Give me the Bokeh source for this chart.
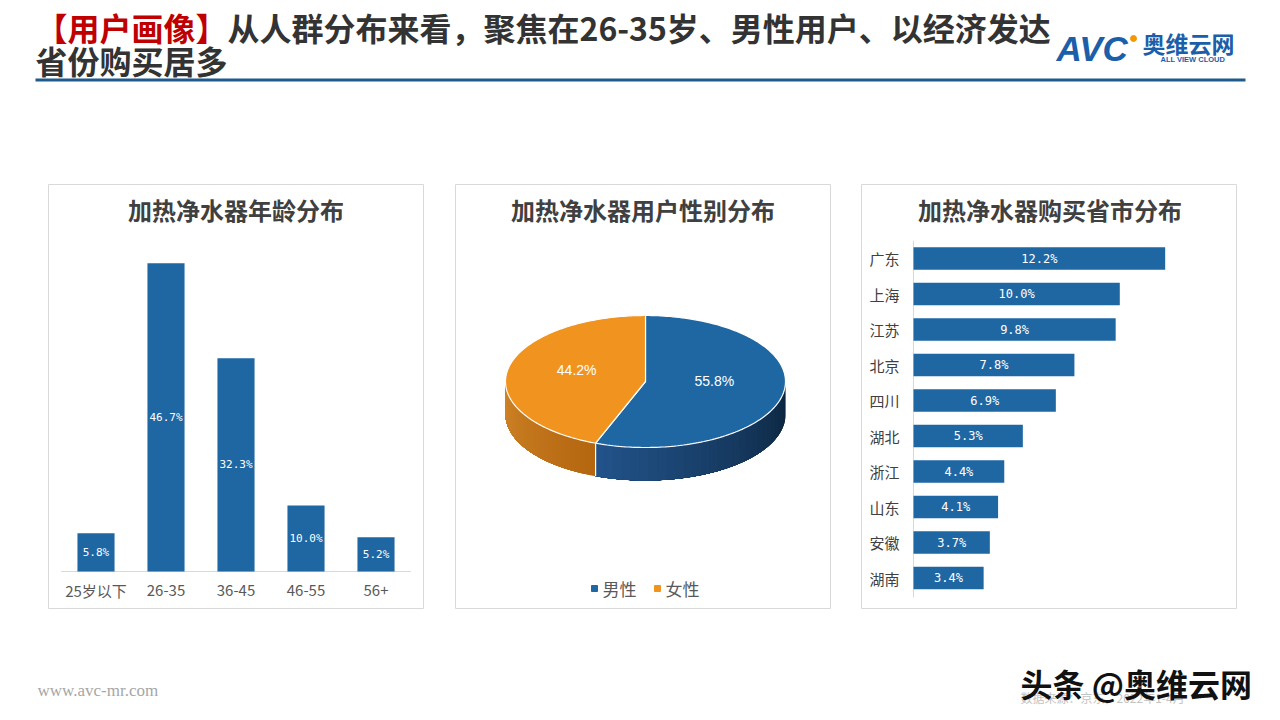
import numpy as np
from bokeh.plotting import figure
from bokeh.layouts import column, row
from bokeh.models import Range1d, FactorRange, Spacer
from bokeh.core.properties import value
from bokeh.embed import file_html
from bokeh.resources import INLINE

# ---------------- data ----------------
age_groups = ["25岁以下", "26-35", "36-45", "46-55", "56+"]
age_share = [5.8, 46.7, 32.3, 10.0, 5.2]

genders = ["男性", "女性"]
gender_share = [55.8, 44.2]

provinces = ["广东", "上海", "江苏", "北京", "四川", "湖北", "浙江", "山东", "安徽", "湖南"]
province_share = [12.2, 10.0, 9.8, 7.8, 6.9, 5.3, 4.4, 4.1, 3.7, 3.4]

panel_titles = ["加热净水器年龄分布", "加热净水器用户性别分布", "加热净水器购买省市分布"]
headline_tag = "【用户画像】"
headline_1 = "从人群分布来看，聚焦在26-35岁、男性用户、以经济发达"
headline_2 = "省份购买居多"

# ---------------- style ----------------
CJK = value("Noto Sans CJK SC")
MONO = value("DejaVu Sans Mono")
SANS = value("Liberation Sans")
SERIF = value("Liberation Serif")
BLUE = "#1F67A3"
ORANGE = "#F0931F"
TITLE_C = "#404040"
LABEL_C = "#595959"
GRID_C = "#D9D9D9"
LOGO_C = "#1B5EAA"

PW, PH = 377, 426          # panel size
PANEL_TOP = 183
TITLE_Y = 209
FB = PANEL_TOP + PH - 1    # frame bottom (page y)
FT = PANEL_TOP + 1         # frame top (page y)
TITLE_STYLE = dict(text_font=CJK, text_font_style="bold", text_font_size="24px",
                   text_color=TITLE_C, text_align="center", text_baseline="middle")


def base_fig(width, height, x_range, y_range, border=0):
    p = figure(width=width, height=height, x_range=x_range, y_range=y_range,
               output_backend="svg", toolbar_location=None,
               x_axis_type=None, y_axis_type=None, min_border=border)
    p.grid.visible = False
    p.background_fill_color = "white"
    p.border_fill_color = "white"
    return p


def panel_fig(x_range, y_range):
    p = base_fig(PW, PH, x_range, y_range, border=1)
    p.outline_line_color = GRID_C
    p.outline_line_width = 1
    return p


# ---------------- header ----------------
hdr = base_fig(1280, PANEL_TOP, Range1d(0, 1280), Range1d(PANEL_TOP, 0))
hdr.outline_line_color = None
hdr.text(x=[35], y=[26], text=[headline_tag], text_font=CJK, text_font_style="bold",
         text_font_size="32px", text_color="#C00000", text_baseline="middle")
hdr.text(x=[35 + 6 * 32], y=[26], text=[headline_1], text_font=CJK, text_font_style="bold",
         text_font_size="32px", text_color="#333333", text_baseline="middle")
hdr.text(x=[35], y=[59], text=[headline_2], text_font=CJK, text_font_style="bold",
         text_font_size="32px", text_color="#333333", text_baseline="middle")
hdr.segment(x0=[35], y0=[79.5], x1=[1245], y1=[79.5], line_width=3, line_color="#1F5A8C")
# logo
hdr.text(x=[1056], y=[48], text=["AVC"], text_font=SANS, text_font_style="bold italic",
         text_font_size="35px", text_color=LOGO_C, text_baseline="middle")
hdr.scatter(x=[1133], y=[38], size=6, marker="circle", color="#F39800")
hdr.text(x=[1142], y=[42], text=["奥维云网"], text_font=CJK, text_font_style="bold",
         text_font_size="23px", text_color=LOGO_C, text_baseline="middle")
hdr.text(x=[1160], y=[59], text=["ALL VIEW CLOUD"], text_font=SANS, text_font_style="bold",
         text_font_size="7.5px", text_color=LOGO_C, text_baseline="middle")

# ---------------- panel A: age bars ----------------
AX0 = 47
A_SCALE = 6.6            # px per percent
A_BASE = 37              # baseline distance from frame bottom (px)
ya0 = -A_BASE / A_SCALE
pa = panel_fig(FactorRange(factors=age_groups, range_padding=0.0714, range_padding_units="percent"),
               Range1d(ya0, ya0 + (PH - 2) / A_SCALE))
n_age = len(age_groups)
pa.text(x=[n_age / 2], y=[ya0 + (FB - TITLE_Y) / A_SCALE], text=[panel_titles[0]], **TITLE_STYLE)
pa.segment(x0=[0], x1=[n_age], y0=[0], y1=[0], line_color=GRID_C, line_width=1)
pa.vbar(x=age_groups, top=age_share, width=0.53, fill_color=BLUE, line_color=None)
pa.text(x=age_groups, y=[v / 2 for v in age_share], text=[f"{v:.1f}%" for v in age_share],
        text_font=MONO, text_font_size="11px", text_color="white",
        text_align="center", text_baseline="middle")
pa.text(x=age_groups, y=[0] * n_age, text=age_groups, y_offset=19,
        text_font=CJK, text_font_size="15px", text_color=LABEL_C,
        text_align="center", text_baseline="middle")

# ---------------- panel B: 3D pie ----------------
BX0 = 454
pb = panel_fig(Range1d(BX0 + 1, BX0 + PW - 1), Range1d(FB, FT))
pb.text(x=[BX0 + PW / 2], y=[TITLE_Y], text=[panel_titles[1]], **TITLE_STYLE)
cx, cy, rx, ry, depth = 645, 381, 140, 66, 33
top_colors = [BLUE, ORANGE]
side_colors = [("#22538A", "#0B233B"), ("#D08428", "#B4670F")]  # (left, right)

fr = np.array(gender_share) / np.sum(gender_share)
bounds = np.concatenate([[0.0], np.cumsum(fr)]) * 2 * np.pi


def ell(t):
    return cx + rx * np.sin(t), cy - ry * np.cos(t)


def mix(c1, c2, u):
    a = [int(c1[i:i + 2], 16) for i in (1, 3, 5)]
    b = [int(c2[i:i + 2], 16) for i in (1, 3, 5)]
    return "#%02x%02x%02x" % tuple(int(round(a[k] + (b[k] - a[k]) * u)) for k in range(3))


# visible side walls (front half); each strip covers to the end so no seams show
for i in range(len(fr)):
    a0, a1 = bounds[i], bounds[i + 1]
    s0, s1 = max(a0, np.pi / 2), min(a1, 3 * np.pi / 2)
    if s0 >= s1:
        continue
    n = 30
    edges = np.linspace(s0, s1, n + 1)
    for j in range(n):
        t = np.linspace(edges[j], s1, 60)
        x, y = ell(t)
        xs = np.concatenate([x, x[::-1]])
        ys = np.concatenate([y, y[::-1] + depth])
        u = (j + 0.5) / n  # 0 = right end, 1 = left end
        c = mix(side_colors[i][1], side_colors[i][0], u)
        pb.patch(xs, ys, fill_color=c, line_color=None)
for b in bounds[1:-1]:
    if np.pi / 2 < b < 3 * np.pi / 2:
        bx, by = ell(b)
        pb.segment(x0=[bx], y0=[by], x1=[bx], y1=[by + depth], line_color="white", line_width=1.2)

# top faces
for i in range(len(fr)):
    t = np.linspace(bounds[i], bounds[i + 1], 160)
    x, y = ell(t)
    pb.patch(np.concatenate([[cx], x]), np.concatenate([[cy], y]),
             fill_color=top_colors[i], line_color="white", line_width=1.2)

mids = (bounds[:-1] + bounds[1:]) / 2
lx = cx + 0.5 * rx * np.sin(mids)
ly = cy - 0.5 * ry * np.cos(mids) - 6
pb.text(x=lx, y=ly, text=[f"{v:.1f}%" for v in gender_share], text_font=SANS,
        text_font_size="14px", text_color="white", text_align="center", text_baseline="middle")

# legend
leg_x0, leg_step, leg_y = 594, 63, 588
pb.scatter(x=[leg_x0 + k * leg_step for k in range(len(genders))], y=[leg_y] * len(genders),
           marker="square", size=6, color=top_colors)
pb.text(x=[leg_x0 + 8 + k * leg_step for k in range(len(genders))], y=[leg_y] * len(genders),
        text=genders, text_font=CJK, text_font_size="17px", text_color=LABEL_C,
        text_baseline="middle")

# ---------------- panel C: provinces ----------------
CX0 = 860
C_SCALE = 20.63          # px per percent
C_LEFT = 913             # page x of bar base
ROW0, ROW_H = 258, 35.5  # page y of first row centre, row pitch
fl = CX0 + 1
fr_ = CX0 + PW - 1
xr = Range1d(-(C_LEFT - fl) / C_SCALE, (fr_ - C_LEFT) / C_SCALE)
yr = Range1d((FB - ROW0) / ROW_H, (FT - ROW0) / ROW_H)
pc = panel_fig(xr, yr)
pc.text(x=[(CX0 + PW / 2 + 1 - C_LEFT) / C_SCALE], y=[(TITLE_Y - ROW0) / ROW_H],
        text=[panel_titles[2]], **TITLE_STYLE)
rows = list(range(len(provinces)))
pc.segment(x0=[0], x1=[0], y0=[-0.5], y1=[len(provinces) - 0.45], line_color=GRID_C, line_width=1)
pc.hbar(y=rows, left=0, right=province_share, height=0.64, fill_color=BLUE, line_color=None)
pc.text(x=[v / 2 for v in province_share], y=rows, text=[f"{v:.1f}%" for v in province_share],
        text_font=MONO, text_font_size="12px", text_color="white",
        text_align="center", text_baseline="middle")
pc.text(x=[0] * len(provinces), y=rows, text=provinces, x_offset=-14,
        text_font=CJK, text_font_size="15px", text_color=TITLE_C,
        text_align="right", text_baseline="middle")

# ---------------- footer ----------------
ft = base_fig(1280, 720 - PANEL_TOP - PH, Range1d(0, 1280), Range1d(720, PANEL_TOP + PH))
ft.outline_line_color = None
ft.text(x=[37], y=[690], text=["www.avc-mr.com"], text_font=SERIF, text_font_size="17px",
        text_color="#A6A6A6", text_baseline="middle")
ft.text(x=[1020], y=[697], text=["数据来源：京东，2022年1-4月"], text_font=CJK,
        text_font_size="12px", text_color="#C4C4C4", text_baseline="middle")
ft.text(x=[1020], y=[682], text=["头条 @奥维云网"], text_font=CJK, text_font_style="bold",
        text_font_size="32px", text_color="#111111", text_baseline="middle")

mid = row(Spacer(width=AX0, height=PH), pa, Spacer(width=BX0 - AX0 - PW, height=PH), pb,
          Spacer(width=CX0 - BX0 - PW, height=PH), pc, Spacer(width=1280 - CX0 - PW, height=PH))
page = column(hdr, mid, ft)

open("out.html", "w").write(file_html(page, INLINE))
